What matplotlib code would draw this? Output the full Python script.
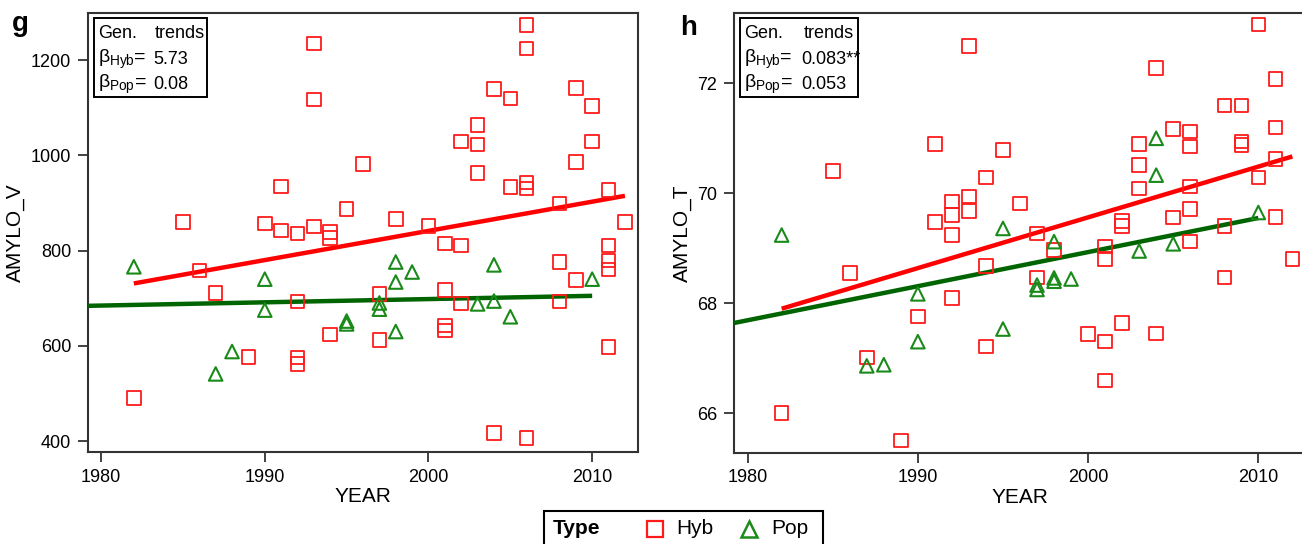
import matplotlib
matplotlib.use("Agg")
import matplotlib.pyplot as plt
from matplotlib.lines import Line2D
from matplotlib.patches import Rectangle

plt.rcParams['font.family'] = ['Liberation Sans', 'DejaVu Sans']
plt.rcParams['mathtext.fontset'] = 'custom'
plt.rcParams['mathtext.rm'] = 'Liberation Sans'
plt.rcParams['mathtext.it'] = 'Liberation Sans'
plt.rcParams['mathtext.sf'] = 'Liberation Sans'

# panel g: AMYLO_V
hyb_v_year = [1982, 1985, 1986, 1987, 1989, 1990, 1991, 1991, 1992, 1992, 1992, 1992,
              1993, 1993, 1993, 1994, 1994, 1994, 1995, 1996, 1997, 1997, 1998, 2000,
              2001, 2001, 2001, 2001, 2002, 2002, 2002, 2003, 2003, 2003, 2004, 2004,
              2005, 2005, 2006, 2006, 2006, 2006, 2006, 2008, 2008, 2008, 2009, 2009,
              2009, 2010, 2010, 2011, 2011, 2011, 2011, 2011, 2012]
hyb_v = [490, 860, 758, 711, 577, 857, 935, 842, 836, 693, 575, 562,
         1235, 1117, 851, 839, 827, 624, 887, 982, 709, 612, 866, 852,
         815, 717, 643, 632, 1029, 811, 689, 1064, 1023, 963, 1139, 417,
         1119, 933, 1274, 1224, 943, 930, 406, 899, 776, 693, 1142, 986,
         738, 1104, 1029, 927, 811, 779, 760, 598, 860]
pop_v_year = [1982, 1987, 1988, 1990, 1990, 1995, 1995, 1997, 1997, 1998, 1998, 1998,
              1999, 2003, 2004, 2004, 2005, 2010]
pop_v = [766, 541, 588, 740, 675, 652, 646, 690, 677, 776, 734, 630,
         755, 688, 770, 694, 661, 740]
trend_v_hyb = ([1982, 2012], [731, 915])
trend_v_pop = ([1979.2, 2010], [684, 705])

# panel h: AMYLO_T
hyb_t_year = [1982, 1985, 1986, 1987, 1989, 1990, 1991, 1991, 1992, 1992, 1992, 1992,
              1993, 1993, 1993, 1994, 1994, 1994, 1995, 1996, 1997, 1997, 1998, 2000,
              2001, 2001, 2001, 2001, 2002, 2002, 2002, 2003, 2003, 2003, 2004, 2004,
              2005, 2005, 2006, 2006, 2006, 2006, 2006, 2008, 2008, 2008, 2009, 2009,
              2009, 2010, 2010, 2011, 2011, 2011, 2011, 2012]
hyb_t = [66.0, 70.41, 68.55, 67.01, 65.5, 67.76, 70.9, 69.48, 69.85, 69.6, 69.24, 68.09,
         72.68, 69.94, 69.68, 70.29, 68.68, 67.21, 70.79, 69.81, 69.27, 68.47, 68.97, 67.44,
         69.03, 68.8, 67.3, 66.59, 69.5, 69.4, 67.64, 70.9, 70.51, 70.09, 72.28, 67.45,
         71.17, 69.56, 71.12, 70.85, 70.12, 69.71, 69.12, 71.6, 69.4, 68.47, 71.6, 70.94,
         70.88, 73.07, 70.29, 72.08, 71.2, 70.62, 69.57, 68.8]
pop_t_year = [1982, 1987, 1988, 1990, 1990, 1995, 1995, 1997, 1997, 1998, 1998, 1998,
              1999, 2003, 2004, 2004, 2005, 2010]
pop_t = [69.24, 66.86, 66.88, 68.17, 67.3, 69.36, 67.53, 68.33, 68.25, 69.12, 68.46, 68.4,
         68.44, 68.95, 71.0, 70.33, 69.08, 69.65]
trend_t_hyb = ([1982, 2012], [67.9, 70.67])
trend_t_pop = ([1979.2, 2010], [67.64, 69.55])

RED = '#ff1a1a'
GREEN = '#1a8a1a'
LRED = '#ff0000'
LGREEN = '#006400'

fig = plt.figure(figsize=(13.02, 5.44), dpi=100)
ax1 = fig.add_axes([88/1302, 1-452/544, 550/1302, 439/544])
ax2 = fig.add_axes([734/1302, 1-452.7/544, 572/1302, 439.7/544])


def panel(ax, hx, hy, px, py, th, tp, ylab, yticks, ylim, b1, b2):
    ax.plot(th[0], th[1], color=LRED, lw=3.2, solid_capstyle='butt', zorder=3)
    ax.plot(tp[0], tp[1], color=LGREEN, lw=3.2, solid_capstyle='butt', zorder=3)
    ax.scatter(hx, hy, marker='s', s=95, facecolors='none', edgecolors=RED, linewidths=1.3, zorder=4)
    ax.scatter(px, py, marker='^', s=95, facecolors='none', edgecolors=GREEN, linewidths=1.5, zorder=4)
    ax.set_xlim(1979.2, 2012.8)
    ax.set_ylim(*ylim)
    ax.set_xticks([1980, 1990, 2000, 2010])
    ax.set_yticks(yticks)
    ax.tick_params(direction='out', length=7, width=1.3, color='#333333', labelsize=13, pad=5)
    for s in ax.spines.values():
        s.set_color('#333333')
        s.set_linewidth(1.5)
    ax.set_xlabel('YEAR', fontsize=15, labelpad=1)
    ax.set_ylabel(ylab, fontsize=15, labelpad=4)
    # stats box
    ax.add_patch(Rectangle((0.011, 0.809), 0.205, 0.18, transform=ax.transAxes,
                           fill=False, edgecolor='black', lw=1.4, zorder=5))
    ax.text(0.018, 0.953, 'Gen.', transform=ax.transAxes, fontsize=13, va='center')
    ax.text(0.122, 0.953, 'trends', transform=ax.transAxes, fontsize=13, va='center')
    ax.text(0.018, 0.895, r'$\beta_{\mathrm{Hyb}}$=', transform=ax.transAxes, fontsize=14, va='center')
    ax.text(0.118, 0.895, b1, transform=ax.transAxes, fontsize=13, va='center')
    ax.text(0.018, 0.838, r'$\beta_{\mathrm{Pop}}$=', transform=ax.transAxes, fontsize=14, va='center')
    ax.text(0.118, 0.838, b2, transform=ax.transAxes, fontsize=13, va='center')


panel(ax1, hyb_v_year, hyb_v, pop_v_year, pop_v, trend_v_hyb, trend_v_pop,
      'AMYLO_V', [400, 600, 800, 1000, 1200], (377, 1299), '5.73', '0.08')
panel(ax2, hyb_t_year, hyb_t, pop_t_year, pop_t, trend_t_hyb, trend_t_pop,
      'AMYLO_T', [66, 68, 70, 72], (65.28, 73.28), '0.083**', '0.053')

fig.text(12/1302, 1-24/544, 'g', fontsize=20, fontweight='bold', va='center')
fig.text(680/1302, 1-28/544, 'h', fontsize=20, fontweight='bold', va='center')

# legend box at the bottom
W, H = 1302, 544
fig.add_artist(Rectangle((544/W, 1-560/H), 279/W, 49/H, transform=fig.transFigure,
                         fill=False, edgecolor='black', lw=1.5))
ly = 1-529/H
fig.text(553/W, ly, 'Type', fontsize=15, va='center', fontweight='semibold')
fig.add_artist(Line2D([655/W], [ly], transform=fig.transFigure, marker='s', markersize=12,
                      markerfacecolor='none', markeredgecolor=RED, markeredgewidth=1.6))
fig.text(676/W, ly, 'Hyb', fontsize=15, va='center')
fig.add_artist(Line2D([749/W], [ly], transform=fig.transFigure, marker='^', markersize=12,
                      markerfacecolor='none', markeredgecolor=GREEN, markeredgewidth=1.8))
fig.text(771/W, ly, 'Pop', fontsize=15, va='center')

fig.savefig('out.png', dpi=100)
